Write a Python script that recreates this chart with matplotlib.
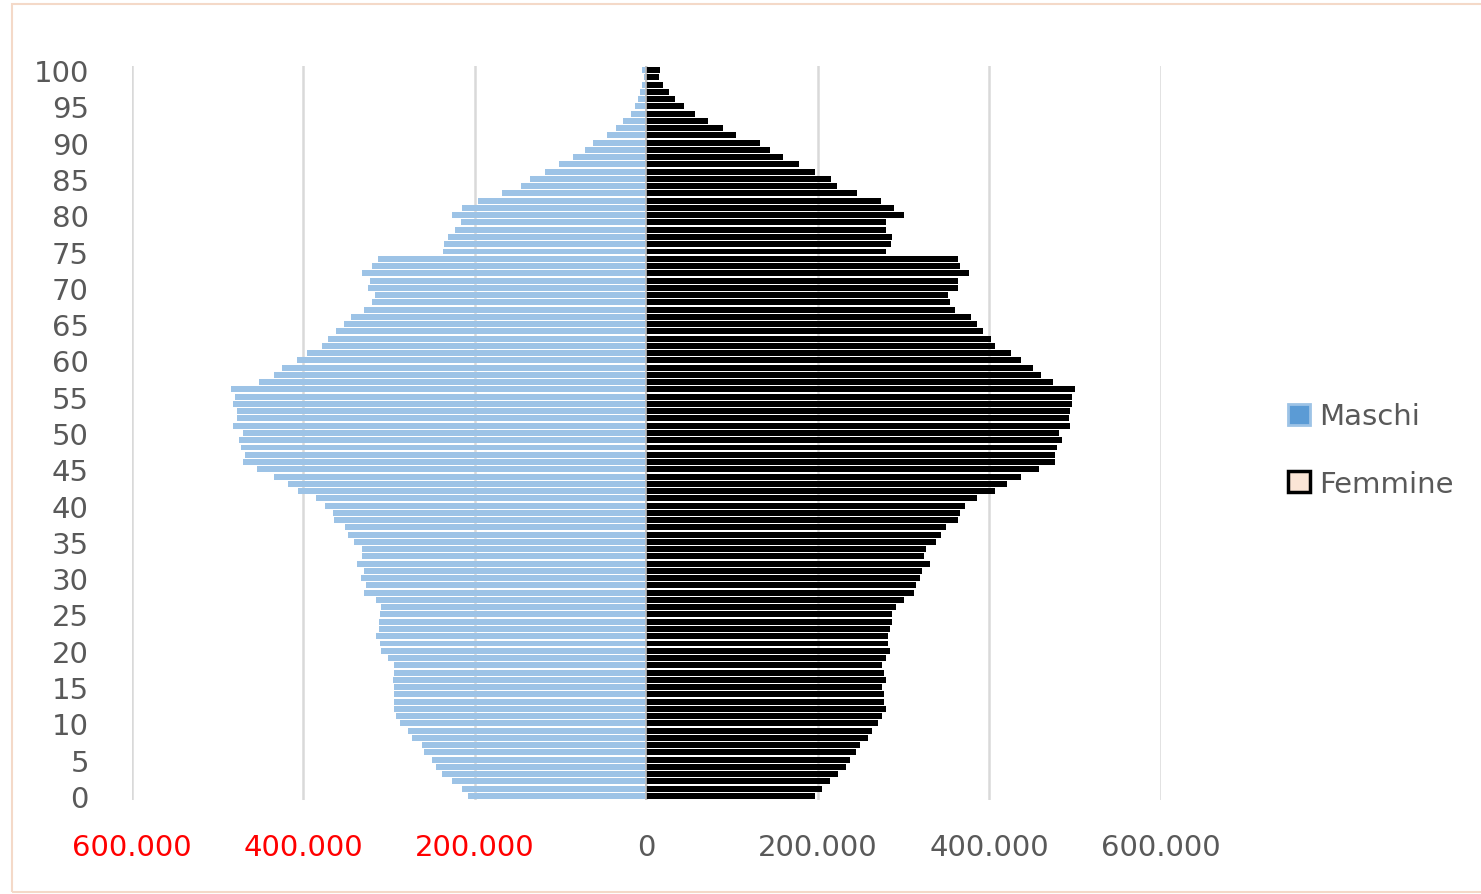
import matplotlib.pyplot as plt
from matplotlib.patches import Patch, Rectangle
from matplotlib.ticker import FuncFormatter

# eta' 0..100
eta = list(range(0, 101))

maschi = [208000, 215000, 227000, 239000, 245000, 250000, 260000, 262000, 273000, 278000,
          287000, 292000, 294000, 294000, 294000, 294000, 296000, 294000, 294000, 301000,
          310000, 311000, 315000, 312000, 312000, 311000, 310000, 315000, 329000, 327000,
          333000, 329000, 338000, 332000, 332000, 341000, 348000, 352000, 364000, 366000,
          375000, 385000, 406000, 418000, 434000, 454000, 471000, 468000, 473000, 475000,
          471000, 482000, 477000, 478000, 482000, 480000, 485000, 452000, 434000, 425000,
          408000, 396000, 378000, 371000, 362000, 353000, 345000, 329000, 320000, 316000,
          325000, 322000, 332000, 320000, 313000, 237000, 236000, 232000, 223000, 216000,
          227000, 215000, 197000, 169000, 146000, 136000, 118000, 102000, 85500, 72000,
          62500, 46500, 35000, 27000, 18400, 13700, 9400, 7400, 4700, 2700,
          4700]

femmine = [197000, 205000, 214000, 223500, 232800, 237500, 244500, 249200, 258500, 263200,
           270200, 274800, 279500, 277200, 277200, 274800, 279500, 277200, 274800, 279500,
           284100, 281800, 281800, 284100, 286500, 286500, 291100, 300500, 312100, 314500,
           319100, 321500, 330800, 323800, 326100, 337800, 344000, 349500, 363000, 365500,
           372000, 386000, 407000, 420600, 437000, 457500, 476200, 476200, 478900, 484700,
           480800, 494400, 492500, 494400, 496400, 496400, 500300, 473800, 459800, 450500,
           437000, 425000, 407000, 402300, 393000, 386000, 379000, 360300, 353700, 351400,
           363000, 363000, 376600, 365500, 363000, 279500, 285000, 286900, 279900, 279900,
           300900, 288800, 273000, 245700, 222300, 215300, 197000, 178400, 159400, 143800,
           132000, 104600, 89000, 72000, 56400, 44300, 33000, 26000, 19400, 14400,
           16300]

x_ticks = [-600000, -400000, -200000, 0, 200000, 400000, 600000]
y_ticks = list(range(0, 101, 5))

grigio = '#595959'

fig = plt.figure(figsize=(14.81, 8.95), dpi=100)
ax = fig.add_axes([0.0891, 0.1055, 0.6948, 0.8192])

ax.barh(eta, [-v for v in maschi], height=0.82, color='#9DC3E6', zorder=2)
ax.barh(eta, femmine, height=0.82, color='black', zorder=2)
ax.axvline(0, color='#BFBFBF', lw=1.2, zorder=3)

ax.set_xlim(-600000, 600000)
ax.set_ylim(-0.5, 100.5)
ax.set_xticks(x_ticks)
ax.set_yticks(y_ticks)
ax.xaxis.set_major_formatter(FuncFormatter(lambda v, p: f"{abs(int(v)):,}".replace(',', '.')))
ax.grid(axis='x', color='#D9D9D9', lw=1.8, zorder=0)
ax.set_axisbelow(True)
for s in ax.spines.values():
    s.set_visible(False)

ax.tick_params(axis='both', length=0, labelsize=21, colors=grigio)
ax.tick_params(axis='y', pad=31)
ax.tick_params(axis='x', pad=24)
for lab, v in zip(ax.get_xticklabels(), x_ticks):
    if v < 0:
        lab.set_color('#FF0000')

handles = [Patch(facecolor='#5B9BD5', edgecolor='#9DC3E6', linewidth=2),
           Patch(facecolor='#FBE5D6', edgecolor='black', linewidth=2.5)]
leg = fig.legend(handles, ['Maschi', 'Femmine'], loc='center left',
                 bbox_to_anchor=(0.862, 0.496), frameon=False, fontsize=21,
                 handlelength=0.75, handleheight=0.75, handletextpad=0.3,
                 labelspacing=1.35, borderaxespad=0)
for t in leg.get_texts():
    t.set_color(grigio)

# bordo chiaro attorno al grafico
fig.patches.append(Rectangle((0.0081, 0.0022), 1.05, 0.9922, transform=fig.transFigure,
                             fill=False, edgecolor='#F4D9C8', lw=1.5))

fig.savefig('out.png', dpi=100)
